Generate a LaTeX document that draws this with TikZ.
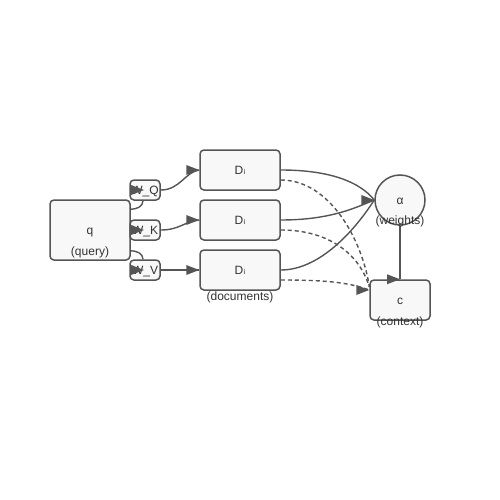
\documentclass[tikz,border=0pt]{standalone}
\usepackage{fontspec}
\setmainfont{Liberation Sans}
\newfontfamily\djv{DejaVu Sans}
\usetikzlibrary{backgrounds}
\definecolor{edgecol}{HTML}{555555}
\definecolor{boxfill}{HTML}{F8F8F8}
\definecolor{txtcol}{HTML}{333333}
\newcommand{\dsub}{D{\djv\char"1D62}}
\begin{document}
\begin{tikzpicture}[x=1pt,y=-1pt,
  box/.style={draw=edgecol,fill=boxfill,rounded corners=4pt,line width=1.5pt,inner sep=0pt},
  circbox/.style={draw=edgecol,fill=boxfill,circle,line width=1.5pt,inner sep=0pt,minimum size=50pt},
  txt/.style={text=txtcol,font=\fontsize{12}{14}\selectfont,inner sep=0pt,text height=8.6pt,text depth=0pt},
  edge/.style={draw=edgecol,line width=1.4pt},
  dedge/.style={edge,dash pattern=on 4pt off 3pt},
  ahead/.style={fill=edgecol}]
\useasboundingbox (0,0) rectangle (500,500);
% boxes
\node[box,minimum width=80pt,minimum height=60pt] (q) at (90,230) {};
\node[box,minimum width=30pt,minimum height=20pt] (wq) at (145,190) {};
\node[box,minimum width=30pt,minimum height=20pt] (wk) at (145,230) {};
\node[box,minimum width=30pt,minimum height=20pt] (wv) at (145,270) {};
\node[box,minimum width=80pt,minimum height=40pt] (d1) at (240,170) {};
\node[box,minimum width=80pt,minimum height=40pt] (d2) at (240,220) {};
\node[box,minimum width=80pt,minimum height=40pt] (d3) at (240,270) {};
\node[circbox] (al) at (400,200) {};
\node[box,minimum width=60pt,minimum height=40pt] (c) at (400,300) {};
% edges behind boxes
\begin{scope}[on background layer]
\draw[edge] ([yshift=-10pt]q.north east) to[out=0,in=-90] ([xshift=-2pt]wq.south);
\draw[edge] (q.east) -- (wk.west);
\draw[edge] ([yshift=10pt]q.south east) to[out=0,in=90] ([xshift=-2pt]wv.north);
\draw[edge] (wq.east) .. controls (180,190) and (185,172) .. (d1.west);
\draw[edge] (wk.east) .. controls (180,230) and (185,221) .. (d2.west);
\draw[edge] (wv.east) -- (d3.west);
\draw[edge] (d1.east) .. controls (330,170) and (360,182) .. (al.west);
\draw[edge] (d2.east) .. controls (330,220) and (355,208) .. (al.west);
\draw[edge] (d3.east) .. controls (320,270) and (355,230) .. (al.west);
\coordinate (cin) at ([yshift=10pt]c.west);
\draw[dedge] ([yshift=-10pt]d1.east) .. controls (330,180) and (362,240) .. ([yshift=4pt]cin);
\draw[dedge] ([yshift=-10pt]d2.east) .. controls (330,230) and (360,255) .. ([yshift=3pt]cin);
\draw[dedge] ([yshift=-10pt]d3.east) .. controls (330,280) and (350,283) .. (cin);
\draw[edge] (al.south) -- (c.north);
\end{scope}
% texts
\node[txt] (qt) at (90,230) {q};
\node[txt] (ql) at (90,251) {(query)};
\node[txt] (wqt) at (145,190) {W\_Q};
\node[txt] (wkt) at (145,230) {W\_K};
\node[txt] (wvt) at (145,270) {W\_V};
\node[txt] (d1t) at (240,170) {\dsub};
\node[txt] (d2t) at (240,220) {\dsub};
\node[txt] (d3t) at (240,270) {\dsub};
\node[txt] (dl) at (240,296) {(documents)};
\node[txt] (alt) at (400,200) {α};
\node[txt] (all) at (400,220) {(weights)};
\node[txt] (ct) at (400,300) {c};
\node[txt] (cl) at (400,321) {(context)};
% arrowheads
\foreach \p in {wq,wk,wv} {
  \fill[ahead] ([xshift=-1pt]\p.center) -- ++(-13,-5) -- ++(0,10) -- cycle;
}
\foreach \p in {d1,d2,d3} {
  \fill[ahead] (\p.west) -- ++(-13,-5) -- ++(0,10) -- cycle;
}
\fill[ahead] (al.west) -- ++(-13,-5) -- ++(0,10) -- cycle;
\fill[ahead] (cin) -- ++(-13,-5) -- ++(0,10) -- cycle;
\fill[ahead] (c.north) -- ++(-13,-5) -- ++(0,10) -- cycle;
\end{tikzpicture}
\end{document}
